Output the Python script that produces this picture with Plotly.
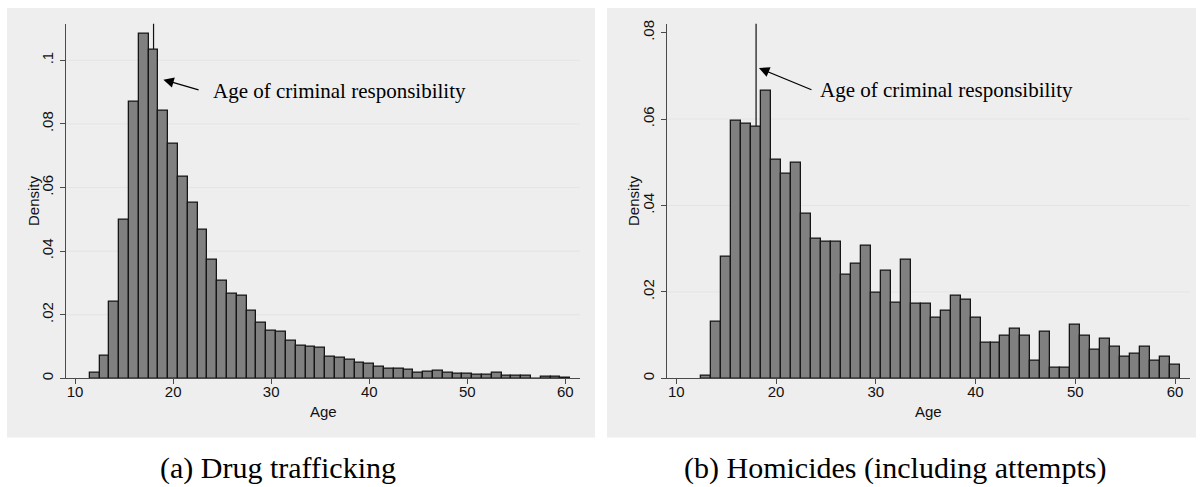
import plotly.graph_objects as go

W, H = 1201, 487

# ---------------- data ----------------
ages_a = list(range(12, 61))
dens_a = [0.0017, 0.0072, 0.0242, 0.0498, 0.0871, 0.1083, 0.1032, 0.0843, 0.0737, 0.0635,
          0.0551, 0.0467, 0.0374, 0.0307, 0.0265, 0.0260, 0.0214, 0.0176, 0.0150, 0.0147,
          0.0119, 0.0103, 0.0100, 0.0096, 0.0069, 0.0066, 0.0058, 0.0048, 0.0046, 0.0035,
          0.0029, 0.0029, 0.0026, 0.0017, 0.0021, 0.0024, 0.0017, 0.0015, 0.0015, 0.0012,
          0.0012, 0.0016, 0.0008, 0.0008, 0.0008, 0.0000, 0.0006, 0.0006, 0.0002]

ages_b = list(range(13, 61))
dens_b = [0.0007, 0.0131, 0.0282, 0.0595, 0.0590, 0.0582, 0.0665, 0.0507, 0.0473, 0.0498,
          0.0382, 0.0323, 0.0315, 0.0315, 0.0240, 0.0265, 0.0307, 0.0198, 0.0248, 0.0174,
          0.0274, 0.0173, 0.0173, 0.0140, 0.0157, 0.0190, 0.0181, 0.0140, 0.0082, 0.0082,
          0.0098, 0.0115, 0.0098, 0.0040, 0.0107, 0.0024, 0.0024, 0.0123, 0.0098, 0.0066,
          0.0091, 0.0074, 0.0049, 0.0057, 0.0074, 0.0040, 0.0049, 0.0032]

x_ticks = [10, 20, 30, 40, 50, 60]
y_ticks_a = [0, 0.02, 0.04, 0.06, 0.08, 0.1]
y_text_a = ["0", ".02", ".04", ".06", ".08", ".1"]
y_ticks_b = [0, 0.02, 0.04, 0.06, 0.08]
y_text_b = ["0", ".02", ".04", ".06", ".08"]
grid_a = [0.02, 0.04, 0.06, 0.08, 0.1]
grid_b = [0.02, 0.04, 0.06]

resp_age = 18
label = "Age of criminal responsibility"
cap_a = "(a) Drug trafficking"
cap_b = "(b) Homicides (including attempts)"

# ---------------- helpers ----------------
def px(x):
    return x / W

def py(y):
    return 1 - y / H

BAR_FILL = "#808080"
BAR_LINE = "#161616"
AXIS_COL = "#4a4a4a"
GRID_COL = "#e4e4e4"
PANEL_COL = "#eeeeee"
SANS = "Liberation Sans, Arial, sans-serif"
SERIF = "Liberation Serif, Times New Roman, serif"

fig = go.Figure()
fig.add_trace(go.Bar(x=ages_a, y=dens_a, width=1, xaxis="x", yaxis="y",
                     marker=dict(color=BAR_FILL, line=dict(color=BAR_LINE, width=1.3)),
                     showlegend=False, hoverinfo="skip"))
fig.add_trace(go.Bar(x=ages_b, y=dens_b, width=1, xaxis="x2", yaxis="y2",
                     marker=dict(color=BAR_FILL, line=dict(color=BAR_LINE, width=1.3)),
                     showlegend=False, hoverinfo="skip"))

plot_top, plot_bot = 20, 379
yd = [py(plot_bot), py(plot_top)]

common_x = dict(range=[9.07, 61.5], tickmode="array", tickvals=x_ticks,
                showgrid=False, zeroline=False, showline=True, linecolor=AXIS_COL,
                linewidth=1, ticks="outside", ticklen=5, tickcolor=AXIS_COL,
                tickfont=dict(family=SANS, size=15, color="#111111"),
                ticklabelstandoff=-5, fixedrange=True)
common_y = dict(zeroline=False, showgrid=False, showline=True, linecolor=AXIS_COL,
                linewidth=1, ticks="outside", ticklen=5, tickcolor=AXIS_COL,
                tickangle=-90, tickmode="array",
                tickfont=dict(family=SANS, size=15, color="#111111"),
                ticklabelstandoff=1, fixedrange=True)

fig.update_layout(
    width=W, height=H, margin=dict(l=0, r=0, t=0, b=0),
    paper_bgcolor="white", plot_bgcolor="white", bargap=0,
    xaxis=dict(domain=[px(66), px(580)], anchor="y", **common_x),
    xaxis2=dict(domain=[px(667), px(1190)], anchor="y2", **common_x),
    yaxis=dict(domain=yd, anchor="x", range=[0, 0.1115], tickvals=y_ticks_a,
               ticktext=y_text_a, **common_y),
    yaxis2=dict(domain=yd, anchor="x2", range=[0, 0.08206], tickvals=y_ticks_b,
                ticktext=y_text_b, **common_y),
)

shapes = []
# gray panel backgrounds
for x0, x1 in [(7, 595), (607, 1196)]:
    shapes.append(dict(type="rect", xref="paper", yref="paper", x0=px(x0), x1=px(x1),
                       y0=py(439), y1=py(4), fillcolor=PANEL_COL, line=dict(width=0),
                       layer="below"))
# gridlines
for g in grid_a:
    shapes.append(dict(type="line", xref="x domain", yref="y", x0=0, x1=1, y0=g, y1=g,
                       line=dict(color=GRID_COL, width=1), layer="below"))
for g in grid_b:
    shapes.append(dict(type="line", xref="x2 domain", yref="y2", x0=0, x1=1, y0=g, y1=g,
                       line=dict(color=GRID_COL, width=1), layer="below"))
# vertical reference lines
shapes.append(dict(type="line", xref="x", yref="y domain", x0=resp_age, x1=resp_age,
                   y0=0, y1=1, line=dict(color="#111111", width=1.2), layer="below"))
shapes.append(dict(type="line", xref="x2", yref="y2 domain", x0=resp_age, x1=resp_age,
                   y0=0, y1=1, line=dict(color="#111111", width=1.2), layer="below"))
fig.update_layout(shapes=shapes)

ann = []
# arrows (tip in data coords, tail offset in pixels)
ann.append(dict(x=19.0, y=0.0939, xref="x", yref="y", text="", showarrow=True,
                ax=36.7, ay=10.6, axref="pixel", ayref="pixel", arrowhead=2,
                arrowsize=1.6, arrowwidth=1.3, arrowcolor="black", standoff=0))
ann.append(dict(x=18.29, y=0.0718, xref="x2", yref="y2", text="", showarrow=True,
                ax=54, ay=22.3, axref="pixel", ayref="pixel", arrowhead=2,
                arrowsize=1.6, arrowwidth=1.3, arrowcolor="black", standoff=0))
# label text
ann.append(dict(x=23.84, y=0.0904, xref="x", yref="y", text=label, showarrow=False,
                xanchor="left", yanchor="middle",
                font=dict(family=SERIF, size=21, color="black")))
ann.append(dict(x=24.2, y=0.0667, xref="x2", yref="y2", text=label, showarrow=False,
                xanchor="left", yanchor="middle",
                font=dict(family=SERIF, size=21, color="black")))
# axis titles
for cx in (323, 928.5):
    ann.append(dict(x=px(cx), y=py(413), xref="paper", yref="paper", text="Age",
                    showarrow=False, xanchor="center", yanchor="middle",
                    font=dict(family=SANS, size=15, color="#111111")))
for cx in (33, 633):
    ann.append(dict(x=px(cx), y=py(199.5), xref="paper", yref="paper", text="Density",
                    showarrow=False, textangle=-90, xanchor="center", yanchor="middle",
                    font=dict(family=SANS, size=15, color="#111111")))
# captions
ann.append(dict(x=px(278), y=py(470), xref="paper", yref="paper", text=cap_a,
                showarrow=False, xanchor="center", yanchor="middle",
                font=dict(family=SERIF, size=30, color="black")))
ann.append(dict(x=px(895), y=py(470), xref="paper", yref="paper", text=cap_b,
                showarrow=False, xanchor="center", yanchor="middle",
                font=dict(family=SERIF, size=30, color="black")))
fig.update_layout(annotations=ann)

fig.write_html("out.html")
